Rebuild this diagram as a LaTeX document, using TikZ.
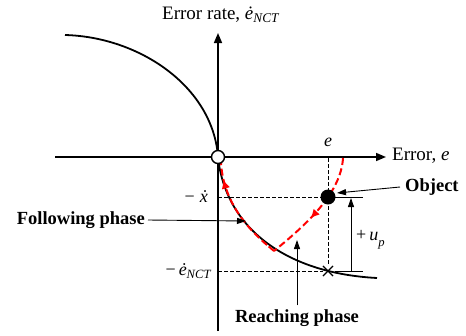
\documentclass[tikz,border=0pt]{standalone}
\usepackage{fontspec}
\setmainfont{Liberation Serif}
\usetikzlibrary{arrows.meta,shapes.misc,decorations.markings}
\begin{document}
\begin{tikzpicture}[x=1pt,y=-1pt,
  axis/.style={line width=1.5pt,-{Triangle[length=10pt,width=8pt]}},
  curve/.style={line width=1.8pt},
  guide/.style={line width=0.7pt,dash pattern=on 3.5pt off 2.5pt},
  pointer/.style={line width=0.9pt,-{Triangle[length=9pt,width=6pt]}},
  redpath/.style={red,line width=2pt,dash pattern=on 7pt off 3.5pt},
  redarrow/.style={postaction={decorate},decoration={markings,
     mark=at position #1 with {\fill[red] (3pt,0) -- (-4.5pt,4pt) -- (-4.5pt,-4pt) -- cycle;}}},
  lbl/.style={font=\fontsize{19}{21}\selectfont,inner sep=1pt},
  blbl/.style={font=\bfseries\fontsize{18.5}{20}\selectfont,inner sep=1pt},
  mlbl/.style={font=\fontsize{18}{20}\selectfont,inner sep=1pt}
]
\useasboundingbox (0,0) rectangle (466,335);
\fill[white] (0,0) rectangle (466,335);

% axes
\coordinate (xl) at (55,157);
\coordinate (xr) at (386,157);
\coordinate (yb) at (218,331);
\coordinate (yt) at (218,33);
\draw[axis] (xl) -- (xr);
\draw[axis] (yb) -- (yt);

% characteristic curves
\coordinate (ul) at (65,35);
\coordinate (O0) at (218,157);
\coordinate (lr) at (377,278);
\draw[curve] (ul) .. controls (140,37) and (213,87) .. (O0);
\draw[curve] (O0) .. controls (225,225) and (282,273) .. (lr);

% guides
\coordinate (objc) at (328,197);
\node[cross out,draw,line width=1.1pt,minimum size=9pt,inner sep=0pt] (cr) at (328,271) {};
\coordinate (ye1) at (218,197);
\coordinate (ye2) at (218,271);
\coordinate (xe) at (328,158);
\draw[guide] (ye1) -- (objc);
\draw[guide] (ye2) -- (cr);
\draw[guide] (xe) -- (cr);

% red trajectory
\coordinate (r0) at (343,158);
\coordinate (r1) at (274,251);
\coordinate (r2) at (267,245);
\coordinate (r3) at (221,163);
\draw[redpath,redarrow=0.55] (r0) .. controls (341,195) and (302,228) .. (r1);
\draw[redpath] (r1) -- (r2);
\draw[redpath,redarrow=0.78] (r2) .. controls (240,222) and (223,195) .. (r3);

% object and origin
\node[circle,fill=black,minimum size=15pt,inner sep=0pt] (obj) at (objc) {};
\node[circle,draw,fill=white,line width=1.4pt,minimum size=13pt,inner sep=0pt] (O) at (218,157) {};

% +u_p bracket
\coordinate (b1a) at (335,197);
\coordinate (b1b) at (363,197);
\coordinate (b2a) at (335,271);
\coordinate (b2b) at (363,271);
\coordinate (ua) at (351,271);
\coordinate (ub) at (351,198);
\draw[line width=0.9pt] (b1a) -- (b1b);
\draw[line width=0.9pt] (b2a) -- (b2b);
\draw[pointer] (ua) -- (ub);
\node[mlbl,anchor=west] (up) at (355,240) {+\,\textit{u}\raisebox{-0.4ex}{\textsubscript{\textit{p}}}};

% labels
\node[lbl] (ylab) at (221,15) {Error rate, \textit{\.e}\textsubscript{\textit{NCT}}};
\node[lbl,anchor=west] (xlab) at (391,156) {Error, \textit{e}};
\node[mlbl] (elab) at (328,142) {\textit{e}};
\node[mlbl,anchor=east] (xdot) at (209,197) {−\;\textit{\.x}};
\node[mlbl,anchor=east] (encT) at (213,271) {−\,\textit{\.e}\textsubscript{\textit{NCT}}};

\node[blbl,anchor=west] (objl) at (404,187) {Object};
\node[blbl,anchor=east] (fol) at (146,220) {Following phase};
\node[blbl] (rea) at (297,318) {Reaching phase};

\coordinate (objt) at (337,193);
\coordinate (folt) at (246,221);
\coordinate (reat) at (297,240);
\draw[pointer] (objl.west) ++(-4,0) coordinate (objs) -- (objt);
\draw[pointer] (fol.east) ++(2,0) coordinate (fols) -- (folt);
\draw[pointer] (rea.north) ++(0,-3) coordinate (reas) -- (reat);
\end{tikzpicture}
\end{document}
